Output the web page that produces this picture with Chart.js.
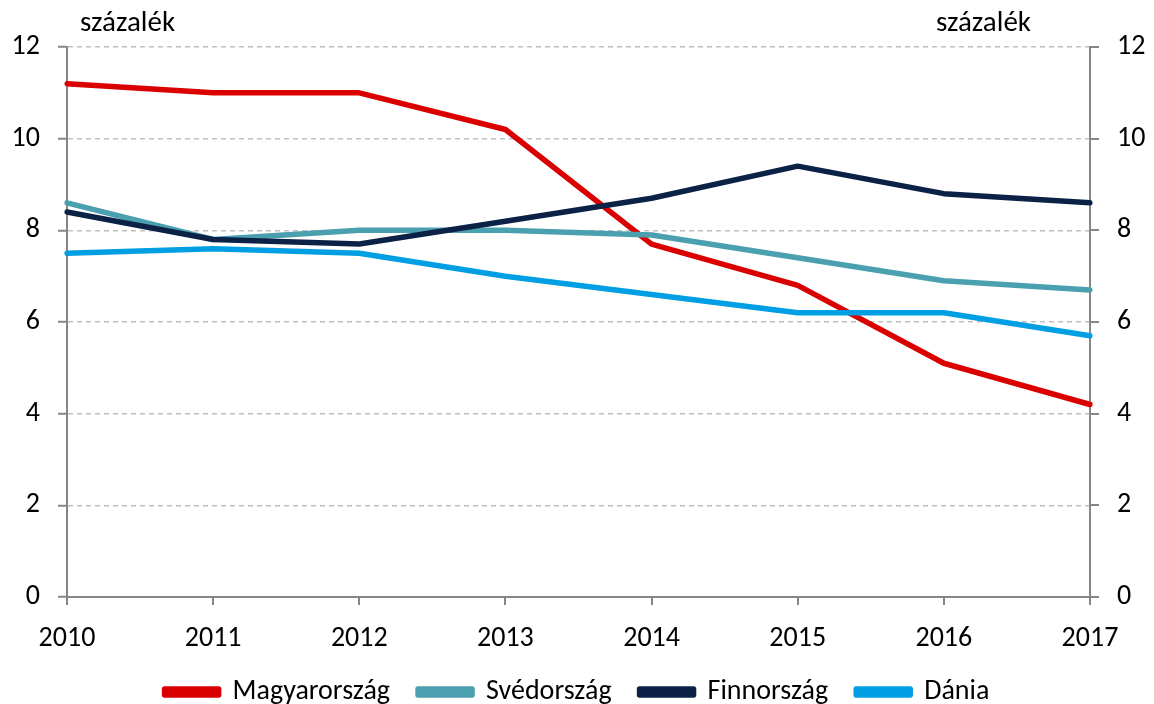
<!DOCTYPE html>
<html><head><meta charset="utf-8">
<script src="https://cdn.jsdelivr.net/npm/chart.js@4/dist/chart.umd.min.js"></script>
<style>html,body{margin:0;padding:0;background:#fff}#wrap{width:1154px;height:704px}</style>
</head><body><div id="wrap"><canvas id="c" width="1154" height="704"></canvas></div>
<script>
const years = ['2010','2011','2012','2013','2014','2015','2016','2017'];
const magyarorszag = [11.2, 11.0, 11.0, 10.2, 7.7, 6.8, 5.1, 4.2];
const svedorszag = [8.6, 7.8, 8.0, 8.0, 7.9, 7.4, 6.9, 6.7];
const finnorszag = [8.4, 7.8, 7.7, 8.2, 8.7, 9.4, 8.8, 8.6];
const dania = [7.5, 7.6, 7.5, 7.0, 6.6, 6.2, 6.2, 5.7];
const seriesNames = ['Magyarország','Svédország','Finnország','Dánia'];
const unitLabel = 'százalék';

const FONT = "Carlito, Lato, 'Liberation Sans', sans-serif";
const FS = 28;
const axisGray = '#868686';
const gridGray = '#BFBFBF';

const titles = {
  id: 'titles',
  afterDraw(chart) {
    const ctx = chart.ctx;
    ctx.save();
    ctx.font = '29px ' + FONT;
    ctx.fillStyle = '#000';
    ctx.textBaseline = 'alphabetic';
    ctx.textAlign = 'left';
    ctx.fillText(unitLabel, 80, 31);
    ctx.textAlign = 'right';
    ctx.fillText(unitLabel, 1031, 31);
    ctx.restore();
  }
};

const ds = (label, data, color, order) => ({
  label, data, borderColor: color, backgroundColor: color,
  borderWidth: 5.5, pointRadius: 0, tension: 0, fill: false, order,
  borderCapStyle: 'round', borderJoinStyle: 'round'
});

new Chart(document.getElementById('c'), {
  type: 'line',
  data: {
    labels: years,
    datasets: [
      ds(seriesNames[0], magyarorszag, '#DA0000', 4),
      ds(seriesNames[1], svedorszag, '#4BA0AF', 3),
      ds(seriesNames[2], finnorszag, '#0C2146', 2),
      ds(seriesNames[3], dania, '#009FE3', 1)
    ]
  },
  options: {
    responsive: false,
    animation: false,
    layout: { padding: { top: 47, left: 0, right: 0, bottom: -12 } },
    plugins: {
      tooltip: { enabled: false },
      legend: {
        position: 'bottom',
        labels: {
          font: { family: FONT, size: FS },
          color: '#000',
          boxWidth: 54, boxHeight: 6,
          padding: 28,
          sort: (a, b) => a.datasetIndex - b.datasetIndex
        }
      }
    },
    scales: {
      x: {
        offset: false,
        grid: { drawOnChartArea: false, drawTicks: true, tickLength: 8, color: axisGray, lineWidth: 2 },
        border: { color: axisGray, width: 2 },
        ticks: { font: { family: FONT, size: FS }, color: '#000', padding: 17, maxRotation: 0 },
        afterFit(s) { s.height = 53; }
      },
      y: {
        position: 'left', min: 0, max: 12,
        grid: {
          color: (c) => c.tick && c.tick.value === 0 ? 'rgba(0,0,0,0)' : gridGray,
          lineWidth: 1.5, tickLength: 9, tickColor: axisGray, tickWidth: 2
        },
        border: { color: axisGray, width: 2, dash: [5, 4] },
        ticks: { stepSize: 2, font: { family: FONT, size: FS }, color: '#000', padding: 18 },
        afterFit(s) { s.width = 67; }
      },
      y2: {
        position: 'right', min: 0, max: 12,
        grid: { drawOnChartArea: false, tickLength: 9, color: axisGray, lineWidth: 2 },
        border: { color: axisGray, width: 2 },
        ticks: { stepSize: 2, font: { family: FONT, size: FS }, color: '#000', padding: 18 },
        afterFit(s) { s.width = 64; }
      }
    }
  },
  plugins: [titles]
});
</script></body></html>
